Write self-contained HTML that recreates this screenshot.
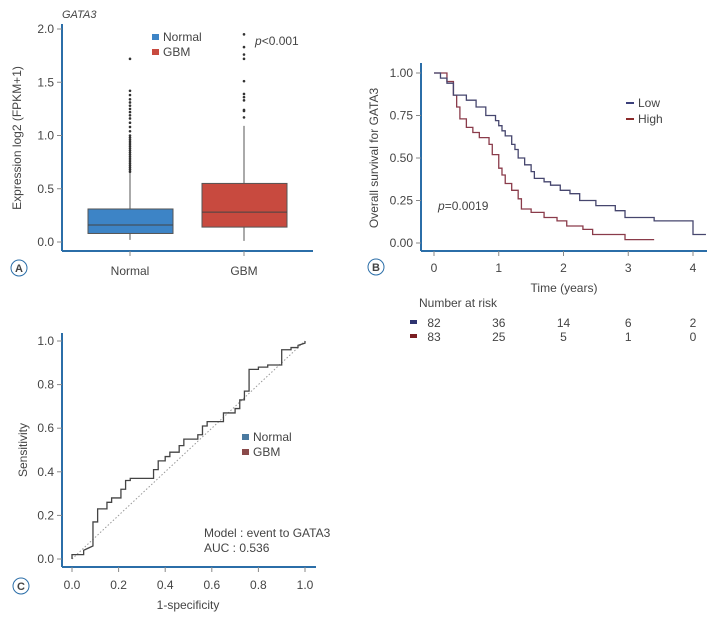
<!DOCTYPE html>
<html><head><meta charset="utf-8"><style>
body{margin:0;background:#fff;}
svg{display:block;font-family:"Liberation Sans",sans-serif;}
text{fill:#444;}
</style></head><body>
<svg id="s" width="721" height="619" viewBox="0 0 721 619"></svg>
<script>
// Panel A data
const boxCategories=["Normal","GBM"];
const boxQ1=[0.08,0.14];
const boxMedian=[0.16,0.28];
const boxQ3=[0.31,0.55];
const boxLow=[0.02,0.01];
const boxHigh=[0.65,1.09];
const outliersNormal=[0.66,0.68,0.70,0.72,0.74,0.76,0.78,0.80,0.82,0.84,0.86,0.88,0.90,0.92,0.94,0.96,0.98,1.00,1.04,1.08,1.12,1.16,1.19,1.22,1.25,1.28,1.31,1.34,1.38,1.42,1.72];
const outliersGBM=[1.17,1.23,1.24,1.33,1.36,1.39,1.51,1.72,1.76,1.83,1.95];
const boxYTicks=[0,0.5,1.0,1.5,2.0];
// Panel B data
const kmLowT=[0,0.1,0.2,0.3,0.5,0.65,0.8,0.95,1.0,1.05,1.1,1.2,1.25,1.3,1.4,1.5,1.55,1.7,1.8,1.95,2.1,2.25,2.5,2.8,2.95,3.4,4.0];
const kmLowS=[1,0.97,0.94,0.87,0.84,0.8,0.75,0.72,0.69,0.66,0.63,0.58,0.55,0.5,0.46,0.42,0.38,0.36,0.34,0.31,0.29,0.25,0.22,0.19,0.15,0.13,0.05];
const kmLowEnd=4.2;
const kmHighT=[0,0.2,0.3,0.35,0.4,0.5,0.6,0.7,0.85,0.9,1.0,1.05,1.1,1.2,1.3,1.35,1.5,1.7,1.9,2.05,2.3,2.45,2.95];
const kmHighS=[1,0.95,0.87,0.8,0.73,0.68,0.65,0.62,0.58,0.52,0.44,0.4,0.35,0.31,0.26,0.2,0.18,0.15,0.13,0.1,0.08,0.05,0.02];
const kmHighEnd=3.4;
const kmXTicks=[0,1,2,3,4];
const kmYTicks=[0,0.25,0.5,0.75,1.0];
const riskLow=[82,36,14,6,2];
const riskHigh=[83,25,5,1,0];
// Panel C data
const rocFpr=[0,0,0.05,0.05,0.07,0.09,0.09,0.11,0.11,0.15,0.15,0.17,0.17,0.21,0.21,0.23,0.23,0.25,0.25,0.35,0.35,0.37,0.37,0.4,0.4,0.42,0.42,0.46,0.46,0.48,0.48,0.54,0.54,0.56,0.56,0.58,0.58,0.65,0.65,0.7,0.7,0.72,0.72,0.74,0.74,0.76,0.76,0.8,0.8,0.84,0.84,0.9,0.9,0.94,0.94,0.97,0.97,1,1];
const rocTpr=[0,0.02,0.02,0.04,0.05,0.06,0.17,0.17,0.23,0.23,0.26,0.26,0.28,0.28,0.32,0.32,0.36,0.36,0.37,0.37,0.41,0.41,0.45,0.45,0.47,0.47,0.49,0.49,0.52,0.52,0.55,0.55,0.57,0.57,0.61,0.61,0.63,0.63,0.67,0.67,0.69,0.69,0.73,0.73,0.77,0.77,0.87,0.87,0.88,0.88,0.89,0.89,0.96,0.96,0.97,0.97,0.98,0.99,1];
const rocTicks=[0,0.2,0.4,0.6,0.8,1.0];

const S=document.getElementById('s');const NS='http://www.w3.org/2000/svg';
function el(t,a,txt){const e=document.createElementNS(NS,t);for(const k in a)e.setAttribute(k,a[k]);if(txt!==undefined)e.textContent=txt;S.appendChild(e);return e;}
const AX='#2b6ea8';

// ---- Panel A
const ay=v=>242-v*106.5;
const ax=i=>[130,244][i];
let e;
e=el('line',{x1:62,y1:24,x2:62,y2:251,stroke:AX,'stroke-width':2});

e=el('line',{x1:62,y1:251,x2:313,y2:251,stroke:AX,'stroke-width':2});

boxYTicks.forEach(v=>{el('line',{x1:57,x2:62,y1:ay(v),y2:ay(v),stroke:'#888'});
 e=el('text',{x:54,y:ay(v)+4,'text-anchor':'end','font-size':12},v.toFixed(1));
 });
e=el('text',{x:62,y:18,'font-size':11,'font-style':'italic'},'GATA3');

e=el('text',{transform:'translate(21,138) rotate(-90)','text-anchor':'middle','font-size':12},'Expression log2 (FPKM+1)');

const cols=['#3d84c6','#c84a3f'];
boxCategories.forEach((c,i)=>{const x=ax(i);
 el('line',{x1:x,x2:x,y1:ay(boxLow[i]),y2:ay(boxHigh[i]),stroke:'#555'});
 e=el('rect',{x:x-42,y:ay(boxQ3[i]),width:85,height:ay(boxQ1[i])-ay(boxQ3[i]),fill:cols[i],stroke:'#555'});
 
 el('line',{x1:x-42,x2:x+43,y1:ay(boxMedian[i]),y2:ay(boxMedian[i]),stroke:'#444'});
 el('line',{x1:x,x2:x,y1:251,y2:256,stroke:'#888'});
 e=el('text',{x:x,y:275,'text-anchor':'middle','font-size':12},c);
 
 (i?outliersGBM:outliersNormal).forEach(v=>{el('circle',{cx:x,cy:ay(v),r:1.3,fill:'#333'});});
});
[['Normal',40,cols[0]],['GBM',55,cols[1]]].forEach(l=>{
 el('rect',{x:152,y:l[1]-6,width:7,height:6,fill:l[2]});
 e=el('text',{x:163,y:l[1]+1,'font-size':12},l[0]);
 });
e=el('text',{x:255,y:45,'font-size':12});e.innerHTML='<tspan font-style="italic">p</tspan>&lt;0.001';


function badge(x,y,t){el('circle',{cx:x,cy:y,r:8,fill:'#fff',stroke:AX,'stroke-width':1});
 e=el('text',{x:x,y:y+4,'text-anchor':'middle','font-size':11,'font-weight':'bold'},t);
 }
badge(19,268,'A');

// ---- Panel B
const bx=t=>434+t*64.75;const by=s=>243-s*170;
e=el('line',{x1:421,y1:63,x2:421,y2:251,stroke:AX,'stroke-width':2});

e=el('line',{x1:421,y1:251,x2:707,y2:251,stroke:AX,'stroke-width':2});

kmYTicks.forEach(v=>{el('line',{x1:416,x2:421,y1:by(v),y2:by(v),stroke:'#888'});
 e=el('text',{x:413,y:by(v)+4,'text-anchor':'end','font-size':12},v.toFixed(2));
 });
kmXTicks.forEach(v=>{el('line',{x1:bx(v),x2:bx(v),y1:251,y2:256,stroke:'#888'});
 e=el('text',{x:bx(v),y:272,'text-anchor':'middle','font-size':12},v);
 });
e=el('text',{transform:'translate(378,158) rotate(-90)','text-anchor':'middle','font-size':12},'Overall survival for GATA3');

e=el('text',{x:564,y:292,'text-anchor':'middle','font-size':12},'Time (years)');

function km(T,Sv,end,col,name){let d='M'+bx(T[0])+','+by(Sv[0]);
 for(let i=1;i<T.length;i++){d+='H'+bx(T[i])+'V'+by(Sv[i]);}d+='H'+bx(end);
 e=el('path',{d:d,fill:'none',stroke:col,'stroke-width':1.3});
 }
km(kmHighT,kmHighS,kmHighEnd,'#8a3b4a','km-high-line');
km(kmLowT,kmLowS,kmLowEnd,'#46466e','km-low-line');
[['Low',103,'#3b3f7a'],['High',119,'#8b2a2a']].forEach(l=>{
 el('line',{x1:626,x2:634,y1:l[1],y2:l[1],stroke:l[2],'stroke-width':2});
 e=el('text',{x:638,y:l[1]+4,'font-size':12},l[0]);
 });
e=el('text',{x:438,y:210,'font-size':12});e.innerHTML='<tspan font-style="italic">p</tspan>=0.0019';

badge(376,267,'B');
e=el('text',{x:419,y:307,'font-size':12},'Number at risk');

[[riskLow,327,'#2e3470'],[riskHigh,341,'#7a1e22']].forEach(r=>{
 el('rect',{x:410,y:r[1]-7,width:7,height:4,fill:r[2]});
 r[0].forEach((v,i)=>{e=el('text',{x:bx(kmXTicks[i]),y:r[1],'text-anchor':'middle','font-size':12},v);
 });});

// ---- Panel C
const cx=v=>72+v*233;const cy=v=>559-v*218;
e=el('line',{x1:62,y1:333,x2:62,y2:567,stroke:AX,'stroke-width':2});

e=el('line',{x1:62,y1:567,x2:316,y2:567,stroke:AX,'stroke-width':2});

rocTicks.forEach(v=>{el('line',{x1:57,x2:62,y1:cy(v),y2:cy(v),stroke:'#888'});
 e=el('text',{x:54,y:cy(v)+4,'text-anchor':'end','font-size':12},v.toFixed(1));
 
 el('line',{x1:cx(v),x2:cx(v),y1:567,y2:572,stroke:'#888'});
 e=el('text',{x:cx(v),y:589,'text-anchor':'middle','font-size':12},v.toFixed(1));
 });
e=el('text',{transform:'translate(27,450) rotate(-90)','text-anchor':'middle','font-size':12},'Sensitivity');

e=el('text',{x:188,y:609,'text-anchor':'middle','font-size':12},'1-specificity');

e=el('line',{x1:cx(0),y1:cy(0),x2:cx(1),y2:cy(1),stroke:'#999','stroke-dasharray':'1.5,2'});

let d='';rocFpr.forEach((f,i)=>{d+=(i?'L':'M')+cx(f)+','+cy(rocTpr[i]);});
e=el('path',{d:d,fill:'none',stroke:'#444','stroke-width':1.3});

[['Normal',440,'#4a7aa0'],['GBM',455,'#8a4a4a']].forEach(l=>{
 el('rect',{x:242,y:l[1]-6,width:7,height:6,fill:l[2]});
 e=el('text',{x:253,y:l[1]+1,'font-size':12},l[0]);
 });
e=el('text',{x:204,y:537,'font-size':12},'Model : event to GATA3');

e=el('text',{x:204,y:552,'font-size':12},'AUC : 0.536');

badge(21,586,'C');
</script>
</body></html>
